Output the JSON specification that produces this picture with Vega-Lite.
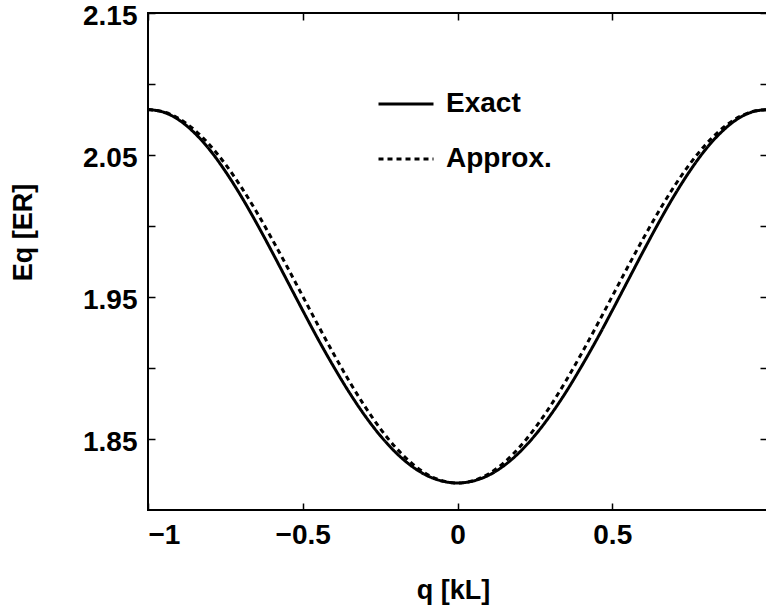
{
  "$schema": "https://vega.github.io/schema/vega-lite/v6.json",
  "width": 619,
  "height": 497,
  "autosize": {"type": "none"},
  "padding": {"left": 148, "top": 13, "right": 0, "bottom": 97},
  "background": "white",
  "config": {
    "font": "Liberation Sans",
    "view": {"stroke": "black", "strokeWidth": 2},
    "axis": {
      "domain": false,
      "ticks": true,
      "tickColor": "black",
      "tickWidth": 1.5,
      "tickSize": -7,
      "grid": false,
      "labelFont": "Liberation Sans",
      "labelFontSize": 28,
      "labelFontWeight": "bold",
      "labelColor": "black",
      "titleFont": "Liberation Sans",
      "titleFontSize": 27,
      "titleFontWeight": "bold",
      "titleColor": "black"
    }
  },
  "datasets": {
    "curves": [
      {"q": -1, "E": 2.082, "s": "Exact"}, {"q": -0.95, "E": 2.0802, "s": "Exact"}, {"q": -0.9, "E": 2.0747, "s": "Exact"},
      {"q": -0.85, "E": 2.0656, "s": "Exact"}, {"q": -0.8, "E": 2.0535, "s": "Exact"}, {"q": -0.75, "E": 2.0385, "s": "Exact"},
      {"q": -0.7, "E": 2.0213, "s": "Exact"}, {"q": -0.65, "E": 2.0023, "s": "Exact"}, {"q": -0.6, "E": 1.9821, "s": "Exact"},
      {"q": -0.55, "E": 1.9613, "s": "Exact"}, {"q": -0.5, "E": 1.9405, "s": "Exact"}, {"q": -0.45, "E": 1.9201, "s": "Exact"},
      {"q": -0.4, "E": 1.9009, "s": "Exact"}, {"q": -0.35, "E": 1.8829, "s": "Exact"}, {"q": -0.3, "E": 1.8667, "s": "Exact"},
      {"q": -0.25, "E": 1.8525, "s": "Exact"}, {"q": -0.2, "E": 1.8406, "s": "Exact"}, {"q": -0.15, "E": 1.8312, "s": "Exact"},
      {"q": -0.1, "E": 1.8244, "s": "Exact"}, {"q": -0.05, "E": 1.8204, "s": "Exact"}, {"q": 0, "E": 1.819, "s": "Exact"},
      {"q": 0.05, "E": 1.8204, "s": "Exact"}, {"q": 0.1, "E": 1.8244, "s": "Exact"}, {"q": 0.15, "E": 1.8312, "s": "Exact"},
      {"q": 0.2, "E": 1.8406, "s": "Exact"}, {"q": 0.25, "E": 1.8525, "s": "Exact"}, {"q": 0.3, "E": 1.8667, "s": "Exact"},
      {"q": 0.35, "E": 1.8829, "s": "Exact"}, {"q": 0.4, "E": 1.9009, "s": "Exact"}, {"q": 0.45, "E": 1.9201, "s": "Exact"},
      {"q": 0.5, "E": 1.9405, "s": "Exact"}, {"q": 0.55, "E": 1.9613, "s": "Exact"}, {"q": 0.6, "E": 1.9821, "s": "Exact"},
      {"q": 0.65, "E": 2.0023, "s": "Exact"}, {"q": 0.7, "E": 2.0213, "s": "Exact"}, {"q": 0.75, "E": 2.0385, "s": "Exact"},
      {"q": 0.8, "E": 2.0535, "s": "Exact"}, {"q": 0.85, "E": 2.0656, "s": "Exact"}, {"q": 0.9, "E": 2.0747, "s": "Exact"},
      {"q": 0.95, "E": 2.0802, "s": "Exact"}, {"q": 1, "E": 2.082, "s": "Exact"},
      {"q": -1, "E": 2.082, "s": "Approx."}, {"q": -0.95, "E": 2.0804, "s": "Approx."}, {"q": -0.9, "E": 2.0756, "s": "Approx."},
      {"q": -0.85, "E": 2.0677, "s": "Approx."}, {"q": -0.8, "E": 2.0569, "s": "Approx."}, {"q": -0.75, "E": 2.0435, "s": "Approx."},
      {"q": -0.7, "E": 2.0278, "s": "Approx."}, {"q": -0.65, "E": 2.0102, "s": "Approx."}, {"q": -0.6, "E": 1.9911, "s": "Approx."},
      {"q": -0.55, "E": 1.9711, "s": "Approx."}, {"q": -0.5, "E": 1.9505, "s": "Approx."}, {"q": -0.45, "E": 1.9299, "s": "Approx."},
      {"q": -0.4, "E": 1.9099, "s": "Approx."}, {"q": -0.35, "E": 1.8908, "s": "Approx."}, {"q": -0.3, "E": 1.8732, "s": "Approx."},
      {"q": -0.25, "E": 1.8575, "s": "Approx."}, {"q": -0.2, "E": 1.8441, "s": "Approx."}, {"q": -0.15, "E": 1.8333, "s": "Approx."},
      {"q": -0.1, "E": 1.8254, "s": "Approx."}, {"q": -0.05, "E": 1.8206, "s": "Approx."}, {"q": 0, "E": 1.819, "s": "Approx."},
      {"q": 0.05, "E": 1.8206, "s": "Approx."}, {"q": 0.1, "E": 1.8254, "s": "Approx."}, {"q": 0.15, "E": 1.8333, "s": "Approx."},
      {"q": 0.2, "E": 1.8441, "s": "Approx."}, {"q": 0.25, "E": 1.8575, "s": "Approx."}, {"q": 0.3, "E": 1.8732, "s": "Approx."},
      {"q": 0.35, "E": 1.8908, "s": "Approx."}, {"q": 0.4, "E": 1.9099, "s": "Approx."}, {"q": 0.45, "E": 1.9299, "s": "Approx."},
      {"q": 0.5, "E": 1.9505, "s": "Approx."}, {"q": 0.55, "E": 1.9711, "s": "Approx."}, {"q": 0.6, "E": 1.9911, "s": "Approx."},
      {"q": 0.65, "E": 2.0102, "s": "Approx."}, {"q": 0.7, "E": 2.0278, "s": "Approx."}, {"q": 0.75, "E": 2.0435, "s": "Approx."},
      {"q": 0.8, "E": 2.0569, "s": "Approx."}, {"q": 0.85, "E": 2.0677, "s": "Approx."}, {"q": 0.9, "E": 2.0756, "s": "Approx."},
      {"q": 0.95, "E": 2.0804, "s": "Approx."}, {"q": 1, "E": 2.082, "s": "Approx."}
    ]
  },
  "data": {"name": "curves"},
  "layer": [
    {
      "mark": {"type": "line", "color": "black", "strokeWidth": 3, "interpolate": "monotone"},
      "encoding": {
        "x": {
          "field": "q", "type": "quantitative",
          "scale": {"domain": [-1, 1], "nice": false, "zero": false},
          "axis": {
            "orient": "bottom", "values": [-1, -0.5, 0, 0.5, 1], "format": "~g",
            "labelExpr": "datum.value >= 1 ? '' : datum.label",
            "labelPadding": 18, "title": "q [kL]",
            "titleX": 305, "titleY": 80, "titleAlign": "center", "titleBaseline": "middle"
          }
        },
        "y": {
          "field": "E", "type": "quantitative",
          "scale": {"domain": [1.8, 2.15], "nice": false, "zero": false},
          "axis": {
            "orient": "left", "values": [1.85, 1.9, 1.95, 2.0, 2.05, 2.1, 2.15], "format": ".2f",
            "labelExpr": "(round(datum.value*100) % 10) == 5 ? datum.label : ''",
            "labelPadding": 18, "labelOffset": 3, "title": "Eq [ER]",
            "titleX": -125, "titleY": 219, "titleAngle": 270, "titleAlign": "center", "titleBaseline": "middle"
          }
        },
        "strokeDash": {
          "field": "s", "type": "nominal",
          "scale": {"domain": ["Exact", "Approx."], "range": [[1, 0], [5, 4]]},
          "legend": {
            "orient": "none", "legendX": 229, "legendY": 62, "title": null,
            "symbolType": "stroke", "symbolSize": 3025, "symbolStrokeWidth": 3, "symbolStrokeColor": "black",
            "labelFont": "Liberation Sans", "labelFontSize": 28, "labelFontWeight": "bold", "labelColor": "black", "labelOffset": 11,
            "rowPadding": 12, "padding": 0
          }
        }
      }
    },
    {
      "mark": {"type": "point", "opacity": 0},
      "encoding": {
        "x": {
          "field": "q", "type": "quantitative",
          "scale": {"domain": [-1, 1], "nice": false, "zero": false},
          "axis": {"orient": "top", "values": [-1, -0.5, 0, 0.5, 1], "labels": false, "title": null}
        },
        "y": {
          "field": "E", "type": "quantitative",
          "scale": {"domain": [1.8, 2.15], "nice": false, "zero": false},
          "axis": {"orient": "right", "values": [1.85, 1.9, 1.95, 2.0, 2.05, 2.1, 2.15], "labels": false, "title": null}
        }
      }
    }
  ],
  "resolve": {"axis": {"x": "independent", "y": "independent"}}
}
